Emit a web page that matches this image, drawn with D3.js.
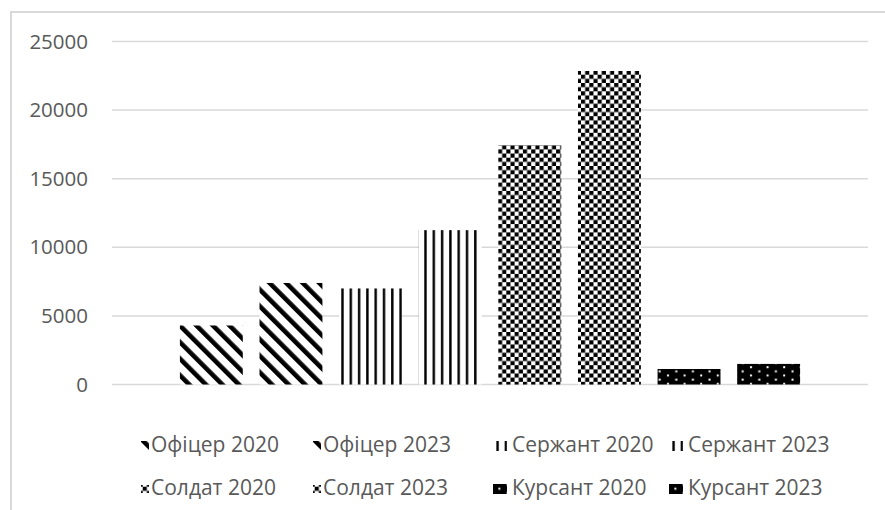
<!DOCTYPE html>
<html>
<script src="https://d3js.org/d3.v7.min.js"></script>
<style>
    body {
        margin: 0;
        background: white;
    }

    text {
        font-family: "Open Sans", sans-serif;
        fill: #595959;
    }
</style>

<body>
</body>
<script>
    const series = ["Офіцер 2020", "Офіцер 2023", "Сержант 2020", "Сержант 2023",
        "Солдат 2020", "Солдат 2023", "Курсант 2020", "Курсант 2023"];
    const values = [4300, 7400, 7000, 11250, 17450, 22850, 1130, 1500];
    const fills = ["diag", "diag", "vert", "vert", "check", "check", "dots", "dots"];
    const yTicks = [0, 5000, 10000, 15000, 20000, 25000];

    const width = 885,
        height = 510;
    const svg = d3.select("body").append("svg").attr("width", width).attr("height", height);

    // hatch patterns, like the Excel pattern fills
    const defs = svg.append("defs");
    const diag = defs.append("pattern").attr("id", "diag")
        .attr("patternUnits", "userSpaceOnUse")
        .attr("width", 11.7).attr("height", 11.7)
        .attr("patternTransform", "rotate(-45)");
    diag.append("rect").attr("width", 11.7).attr("height", 11.7).attr("fill", "white");
    diag.append("rect").attr("width", 4.6).attr("height", 11.7).attr("fill", "black");

    const vert = defs.append("pattern").attr("id", "vert")
        .attr("patternUnits", "userSpaceOnUse")
        .attr("width", 8.3).attr("height", 10);
    vert.append("rect").attr("width", 8.3).attr("height", 10).attr("fill", "white");
    vert.append("rect").attr("x", 1).attr("width", 2.4).attr("height", 10).attr("fill", "black");

    const check = defs.append("pattern").attr("id", "check")
        .attr("patternUnits", "userSpaceOnUse")
        .attr("width", 8.3).attr("height", 8.3);
    check.append("rect").attr("width", 8.3).attr("height", 8.3).attr("fill", "white");
    check.append("rect").attr("width", 4.15).attr("height", 4.15).attr("fill", "black");
    check.append("rect").attr("x", 4.15).attr("y", 4.15).attr("width", 4.15).attr("height", 4.15).attr("fill", "black");

    const dots = defs.append("pattern").attr("id", "dots")
        .attr("patternUnits", "userSpaceOnUse")
        .attr("width", 16.6).attr("height", 8.3);
    dots.append("rect").attr("width", 16.6).attr("height", 8.3).attr("fill", "black");
    dots.append("rect").attr("x", 3).attr("y", 1).attr("width", 2).attr("height", 2).attr("fill", "white");
    dots.append("rect").attr("x", 11.3).attr("y", 5.15).attr("width", 2).attr("height", 2).attr("fill", "white");

    // chart frame (right and bottom edges fall outside the picture)
    svg.append("rect")
        .attr("x", 11).attr("y", 12)
        .attr("width", 1000).attr("height", 1000)
        .attr("fill", "none")
        .attr("stroke", "#d9d9d9")
        .attr("stroke-width", 2);

    const x = d3.scaleBand()
        .domain(series)
        .range([112, 868])
        .paddingInner(0.21)
        .paddingOuter(0.853);
    const y = d3.scaleLinear()
        .domain([0, 25000])
        .range([384.5, 41.5]);

    svg.selectAll(".grid")
        .data(yTicks)
        .join("line")
        .attr("class", "grid")
        .attr("x1", 112).attr("x2", 868)
        .attr("y1", d => y(d)).attr("y2", d => y(d))
        .attr("stroke", "#d9d9d9")
        .attr("stroke-width", 1.5);

    const yAxis = svg.append("g")
        .attr("transform", "translate(88,0)")
        .call(d3.axisLeft(y).tickValues(yTicks).tickSize(0).tickPadding(0).tickFormat(d => d));
    yAxis.select(".domain").remove();
    yAxis.selectAll("text")
        .attr("font-size", 20.5)
        .attr("font-family", "Open Sans")
        .attr("fill", "#595959");

    svg.selectAll(".bar")
        .data(series)
        .join("rect")
        .attr("class", "bar")
        .attr("x", d => x(d))
        .attr("width", x.bandwidth())
        .attr("y", (d, i) => y(values[i]))
        .attr("height", (d, i) => y(0) - y(values[i]))
        .attr("fill", (d, i) => `url(#${fills[i]})`);

    // legend: 4 columns, 2 rows; the swatch box differs a bit by pattern
    const legX = [151, 323, 512, 688];
    const legY = [452, 495];
    const swatch = {
        diag: [-10, -11, 8, 9],
        vert: [-17, -11, 12, 10],
        check: [-10, -10, 8, 8],
        dots: [-19, -11, 14, 10]
    };
    const leg = svg.selectAll(".leg")
        .data(series)
        .join("g")
        .attr("class", "leg")
        .attr("transform", (d, i) => `translate(${legX[i % 4]},${legY[Math.floor(i / 4)]})`);
    leg.append("rect")
        .attr("x", (d, i) => swatch[fills[i]][0])
        .attr("y", (d, i) => swatch[fills[i]][1])
        .attr("width", (d, i) => swatch[fills[i]][2])
        .attr("height", (d, i) => swatch[fills[i]][3])
        .attr("fill", (d, i) => `url(#${fills[i]})`);
    leg.append("text")
        .attr("font-size", 21)
        .text(d => d);
</script>

</html>
